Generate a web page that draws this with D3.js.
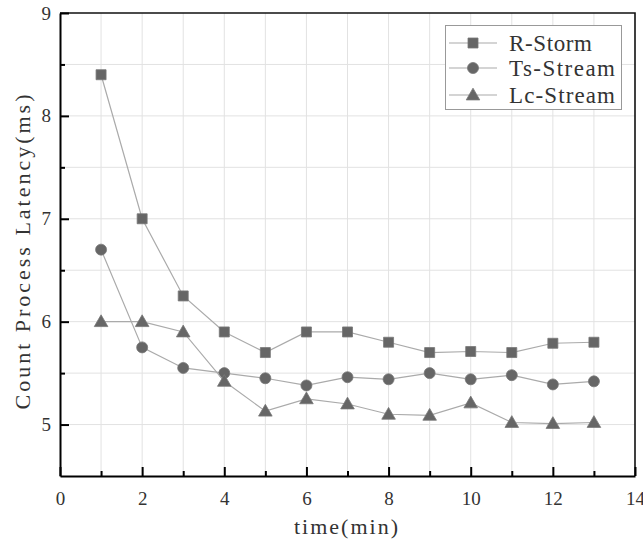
<!DOCTYPE html>
<html>
    <head>
        <title></title>
        <style>
         body { margin: 0; background: #fff; }
         .grid line { stroke: #e2e2e2; stroke-width: 1px; }
         .axis path, .axis line { stroke: #000; }
         .series path.trace { fill: none; stroke: #aaa; stroke-width: 1.2px; }
         .series path.mark { fill: #666; stroke: #777; stroke-width: 0.8px; }
         text { font-family: "Liberation Serif", serif; fill: #333; }
        </style>
    </head>
    <body>
        <svg width="643" height="544"></svg>

        <script src="https://cdn.jsdelivr.net/npm/d3@7"></script>
        <script>

         // data
         var times = [1, 2, 3, 4, 5, 6, 7, 8, 9, 10, 11, 12, 13];
         var rStorm = [8.40, 7.00, 6.25, 5.90, 5.70, 5.90, 5.90, 5.80, 5.70, 5.71, 5.70, 5.79, 5.80];
         var tsStream = [6.70, 5.75, 5.55, 5.50, 5.45, 5.38, 5.46, 5.44, 5.50, 5.44, 5.48, 5.39, 5.42];
         var lcStream = [6.00, 6.00, 5.90, 5.42, 5.13, 5.25, 5.20, 5.10, 5.09, 5.21, 5.02, 5.01, 5.02];
         var seriesNames = ['R-Storm', 'Ts-Stream', 'Lc-Stream'];
         var seriesShapes = ['square', 'circle', 'triangle'];
         var xTicks = [0, 2, 4, 6, 8, 10, 12, 14];
         var yTicks = [5, 6, 7, 8, 9];

         var svg = d3.select('svg');
         var plotL = 60, plotR = 635, plotT = 13, plotB = 476;

         var x = d3.scaleLinear().domain([0, 14]).range([plotL, plotR]);
         var y = d3.scaleLinear().domain([4.5, 9]).range([plotB, plotT]);

         // grid
         var grid = svg.append('g').attr('class', 'grid');
         grid.selectAll('.gx')
             .data(d3.range(1, 14))
             .enter().append('line')
             .attr('x1', function(d) { return x(d); })
             .attr('x2', function(d) { return x(d); })
             .attr('y1', plotT).attr('y2', plotB);
         grid.selectAll('.gy')
             .data(d3.range(5, 9, 0.5))
             .enter().append('line')
             .attr('y1', function(d) { return y(d); })
             .attr('y2', function(d) { return y(d); })
             .attr('x1', plotL).attr('x2', plotR);

         // top / right frame
         svg.append('path')
            .attr('d', 'M' + plotL + ',' + plotT + 'H' + plotR + 'V' + plotB)
            .attr('fill', 'none').attr('stroke', '#111').attr('stroke-width', 1.6);

         // bottom axis: inward ticks, major + minor
         var xMinor = svg.append('g').attr('class', 'axis')
             .attr('transform', 'translate(0,' + plotB + ')')
             .call(d3.axisBottom(x).tickValues(d3.range(1, 14, 2)).tickSize(-5).tickFormat(''));
         xMinor.select('.domain').remove();
         xMinor.selectAll('line').attr('stroke-width', 2);
         var xAxis = svg.append('g').attr('class', 'axis')
             .attr('transform', 'translate(0,' + plotB + ')')
             .call(d3.axisBottom(x).tickValues(xTicks).tickSize(-9).tickSizeOuter(0).tickPadding(16));
         xAxis.select('.domain').attr('stroke-width', 2);
         xAxis.selectAll('line').attr('stroke-width', 2);
         xAxis.selectAll('text')
              .attr('fill', '#333')
              .style('font-family', '"Liberation Serif", serif')
              .style('font-size', '19px');

         // left axis
         var yMinor = svg.append('g').attr('class', 'axis')
             .attr('transform', 'translate(' + plotL + ',0)')
             .call(d3.axisLeft(y).tickValues(d3.range(5.5, 9, 1)).tickSize(-5).tickFormat(''));
         yMinor.select('.domain').remove();
         yMinor.selectAll('line').attr('stroke-width', 2);
         var yAxis = svg.append('g').attr('class', 'axis')
             .attr('transform', 'translate(' + plotL + ',0)')
             .call(d3.axisLeft(y).tickValues(yTicks).tickFormat(d3.format('d'))
                   .tickSize(-9).tickSizeOuter(0).tickPadding(9));
         yAxis.select('.domain').attr('stroke-width', 2);
         yAxis.selectAll('line').attr('stroke-width', 2);
         yAxis.selectAll('text')
              .attr('fill', '#333')
              .style('font-family', '"Liberation Serif", serif')
              .style('font-size', '19px');

         // axis titles
         svg.append('text')
            .attr('x', 346).attr('y', 534)
            .attr('text-anchor', 'middle')
            .attr('textLength', 104).attr('lengthAdjust', 'spacing')
            .style('font-size', '22px')
            .text('time(min)');
         svg.append('text')
            .attr('transform', 'translate(30,252) rotate(-90)')
            .attr('text-anchor', 'middle')
            .attr('textLength', 315).attr('lengthAdjust', 'spacing')
            .style('font-size', '22px')
            .text('Count Process Latency(ms)');

         function symbolFor(shape) {
             if (shape === 'square') return d3.symbol().type(d3.symbolSquare).size(100);
             if (shape === 'circle') return d3.symbol().type(d3.symbolCircle).size(95);
             return d3.symbol().type(d3.symbolTriangle).size(80);
         }

         var allSeries = [rStorm, tsStream, lcStream];
         var line = d3.line()
                      .x(function(d, i) { return x(times[i]); })
                      .y(function(d) { return y(d); });

         allSeries.forEach(function(vals, k) {
             var g = svg.append('g').attr('class', 'series');
             g.append('path').attr('class', 'trace').attr('d', line(vals));
             g.selectAll('.mark')
              .data(vals)
              .enter().append('path')
              .attr('class', 'mark')
              .attr('d', symbolFor(seriesShapes[k])())
              .attr('transform', function(d, i) {
                  var dy = seriesShapes[k] === 'triangle' ? 1 : 0;
                  return 'translate(' + x(times[i]) + ',' + (y(d) + dy) + ')';
              });
         });

         // legend
         var legend = svg.append('g');
         legend.append('rect')
               .attr('x', 445.5).attr('y', 25.5)
               .attr('width', 176).attr('height', 84)
               .attr('fill', '#fff').attr('stroke', '#999').attr('stroke-width', 1);
         var rowY = [43, 68, 95];
         var textLen = [83, 106, 106];
         seriesNames.forEach(function(name, k) {
             var row = legend.append('g').attr('class', 'series');
             row.append('path').attr('class', 'trace').attr('d', 'M449,' + rowY[k] + 'H497');
             row.append('path')
                .attr('class', 'mark')
                .attr('d', symbolFor(seriesShapes[k])())
                .attr('transform', 'translate(473,' + (rowY[k] + (k === 2 ? 1 : 0)) + ')');
             row.append('text')
                .attr('x', 509).attr('y', rowY[k] + 8)
                .attr('textLength', textLen[k]).attr('lengthAdjust', 'spacing')
                .style('font-size', '23px')
                .text(name);
         });
        </script>
    </body>
</html>
